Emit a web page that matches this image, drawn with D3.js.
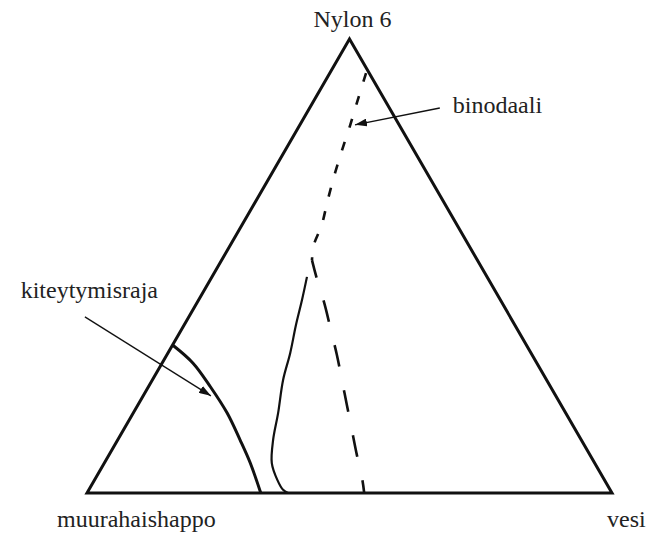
<!DOCTYPE html>
<html>
<head>
<meta charset="utf-8">
<script src="https://cdn.jsdelivr.net/npm/d3@7"></script>
<style>
  html, body { margin: 0; padding: 0; background: #fff; }
  svg { display: block; }
</style>
</head>
<body>
<svg id="chart" width="648" height="537"></svg>
<script>
// Ternary phase diagram Nylon 6 / formic acid / water.
// Compositions are given as percentages of nylon (top vertex) and water (right vertex);
// formic acid (left vertex) is the remainder.

const vertexLabels = ["Nylon 6", "muurahaishappo", "vesi"];

// crystallisation boundary (kiteytymisraja)
const crystNylon = [32.6, 28.6, 23.4, 17.6, 11.7, 6.6, 0];
const crystWater = [0, 5.9, 11.8, 17.9, 23.3, 27.8, 33.1];

// solid boundary branching off the binodal towards the base
const solidNylon = [47.6, 42.5, 37.0, 30.8, 24.9, 17.6, 11.7, 6.6, 2.9, 0.7, 0];
const solidWater = [18.1, 19.7, 21.3, 23.3, 24.9, 27.6, 29.6, 31.9, 34.8, 37.0, 38.3];

// binodal, upper branch (near the nylon vertex)
const binUpNylon = [92.5, 86.1, 81.1, 75.6, 70.5, 64.5, 59.0, 54.6, 51.3];
const binUpWater = [6.9, 8.4, 9.6, 10.8, 12.0, 13.6, 15.2, 15.9, 17.2];

// binodal, lower branch (down to the base)
const binLowNylon = [51.3, 46.9, 41.4, 35.9, 30.4, 24.9, 19.4, 13.9, 8.4, 2.9, 0];
const binLowWater = [17.2, 20.4, 24.6, 28.5, 32.4, 36.1, 39.8, 43.5, 47.2, 51.0, 52.8];

// annotation arrows: [nylon, water] of tail and head
const arrowBinodal = { label: "binodaali", from: [84.8, 24.8], to: [81.1, 10.5] };
const arrowCryst = { label: "kiteytymisraja", from: [38.8, -19.8], to: [21.4, 12.9] };

const FONT = "'Liberation Serif', 'Times New Roman', 'DejaVu Serif', serif";

const svg = d3.select("#chart");

// Cartesian frame of the triangle
const x = d3.scaleLinear().domain([0, 100]).range([87, 612]);
const y = d3.scaleLinear().domain([0, 100]).range([493, 39]);

// ternary -> screen: horizontal position = water + nylon/2, height = nylon
const px = (n, w) => x(w + n / 2);
const py = (n) => y(n);

const toPts = (ns, ws) => ns.map((n, i) => [px(n, ws[i]), py(n)]);

const line = d3.line().curve(d3.curveCatmullRom.alpha(0.5));

// arrowhead marker
const defs = svg.append("defs");
defs.append("marker")
  .attr("id", "head")
  .attr("viewBox", "0 0 12 8")
  .attr("refX", 12).attr("refY", 4)
  .attr("markerWidth", 12).attr("markerHeight", 8)
  .attr("markerUnits", "userSpaceOnUse")
  .attr("orient", "auto")
  .append("path")
  .attr("d", "M0,0 L12,4 L0,8 Z")
  .attr("fill", "#111");

// triangle outline
const corners = [[100, 0], [0, 0], [0, 100]]; // [nylon, water]
svg.append("path")
  .attr("d", d3.line()(corners.map(([n, w]) => [px(n, w), py(n)])) + "Z")
  .attr("fill", "none")
  .attr("stroke", "#111")
  .attr("stroke-width", 3)
  .attr("stroke-linejoin", "miter");

// crystallisation boundary
svg.append("path")
  .attr("d", line(toPts(crystNylon, crystWater)))
  .attr("fill", "none")
  .attr("stroke", "#111")
  .attr("stroke-width", 3);

// solid boundary
svg.append("path")
  .attr("d", line(toPts(solidNylon, solidWater)))
  .attr("fill", "none")
  .attr("stroke", "#111")
  .attr("stroke-width", 2.2);

// binodal (dashed)
svg.append("path")
  .attr("d", line(toPts(binUpNylon, binUpWater)))
  .attr("fill", "none")
  .attr("stroke", "#111")
  .attr("stroke-width", 2.6)
  .attr("stroke-dasharray", "9,15");

svg.append("path")
  .attr("d", line(toPts(binLowNylon, binLowWater)))
  .attr("fill", "none")
  .attr("stroke", "#111")
  .attr("stroke-width", 2.6)
  .attr("stroke-dasharray", "22,24")
  .attr("stroke-dashoffset", 4);

// annotation arrows
[arrowBinodal, arrowCryst].forEach(a => {
  svg.append("line")
    .attr("x1", px(a.from[0], a.from[1])).attr("y1", py(a.from[0]))
    .attr("x2", px(a.to[0], a.to[1])).attr("y2", py(a.to[0]))
    .attr("stroke", "#111")
    .attr("stroke-width", 1.3)
    .attr("marker-end", "url(#head)");
});

const label = (tx, ty, str, anchor) => svg.append("text")
  .attr("x", tx).attr("y", ty)
  .attr("text-anchor", anchor || "start")
  .attr("font-family", FONT)
  .attr("font-size", 24)
  .attr("fill", "#222")
  .text(str);

// annotation labels
label(px(arrowBinodal.from[0], arrowBinodal.from[1]) + 13, py(arrowBinodal.from[0]) + 5, arrowBinodal.label);
label(158, 298, arrowCryst.label, "end");

// vertex labels
label(px(100, 0) + 3, py(100) - 12, vertexLabels[0], "middle");
label(px(0, 0) - 30, py(0) + 34, vertexLabels[1]);
label(px(0, 100) - 5, py(0) + 34, vertexLabels[2]);
</script>
</body>
</html>
